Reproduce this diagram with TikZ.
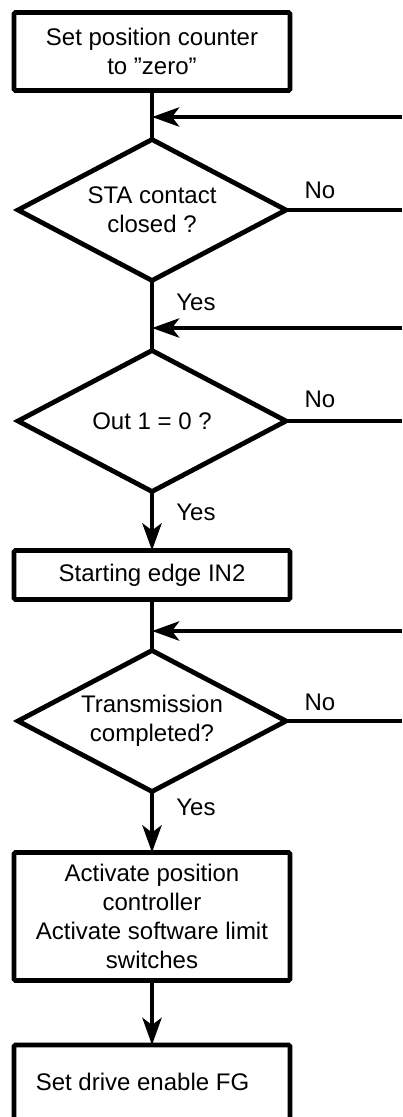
\documentclass[tikz,border=0pt]{standalone}
\usepackage{fontspec}
\setmainfont{Liberation Sans}
\usetikzlibrary{shapes.geometric,arrows.meta}
\begin{document}
\begin{tikzpicture}[x=1pt,y=-1pt,
  every node/.style={font=\fontsize{24}{29}\selectfont},
  box/.style={draw, line width=4.8pt, rectangle, rounded corners=1.5pt, minimum width=276pt, align=center, inner sep=0pt, outer sep=0pt},
  dec/.style={draw, line width=4.8pt, diamond, aspect=1.9, minimum width=268pt, minimum height=141pt, inner sep=0pt, outer sep=0pt, align=center},
  flow/.style={line width=4.8pt},
  arr/.style={flow, -{Stealth[length=27pt,width=19pt,inset=7pt]}},
  lbl/.style={inner sep=0pt}
]
\useasboundingbox (0,0) rectangle (402,1117);
\clip (0,0) rectangle (402,1117);

% nodes
\node[box, minimum height=78pt] (b1) at (152,51.5) {Set position counter\\to ”zero”};
\node[dec] (d1) at (152,210) {STA contact\\closed ?};
\node[dec] (d2) at (152,421) {Out 1 = 0 ?};
\node[box, minimum height=49pt] (b2) at (152,575) {Starting edge IN2};
\node[dec] (d3) at (152,721) {Transmission\\completed?};
\node[box, minimum height=128pt] (b3) at (152,916.5) {Activate position\\controller\\Activate software limit\\switches};
\node[box, minimum height=104pt, anchor=north] (b4) at (152,1045) {Set drive enable FG\hspace*{19pt}\\[1pt]~};

% labels
\node[lbl] (no1) at (320,190) {No};
\node[lbl] (yes1) at (196,302) {Yes};
\node[lbl] (no2) at (320,399) {No};
\node[lbl] (yes2) at (196,512) {Yes};
\node[lbl] (no3) at (320,702) {No};
\node[lbl] (yes3) at (196,807) {Yes};

% free ends at right edge
\coordinate (in1) at (402,117);
\coordinate (out1) at (402,210);
\coordinate (in2) at (402,328);
\coordinate (out2) at (402,421);
\coordinate (in3) at (402,631);
\coordinate (out3) at (402,721);

% connectors
\draw[flow] (b1.south) -- (d1.north);
\draw[arr] (in1) -- (in1 -| b1.south);
\draw[flow] (d1.east) -- (out1);
\draw[flow] (d1.south) -- (d2.north);
\draw[arr] (in2) -- (in2 -| d1.south);
\draw[flow] (d2.east) -- (out2);
\draw[arr] (d2.south) -- (b2.north);
\draw[flow] (b2.south) -- (d3.north);
\draw[arr] (in3) -- (in3 -| b2.south);
\draw[flow] (d3.east) -- (out3);
\draw[arr] (d3.south) -- (b3.north);
\draw[arr] (b3.south) -- (b4.north);
\end{tikzpicture}
\end{document}
